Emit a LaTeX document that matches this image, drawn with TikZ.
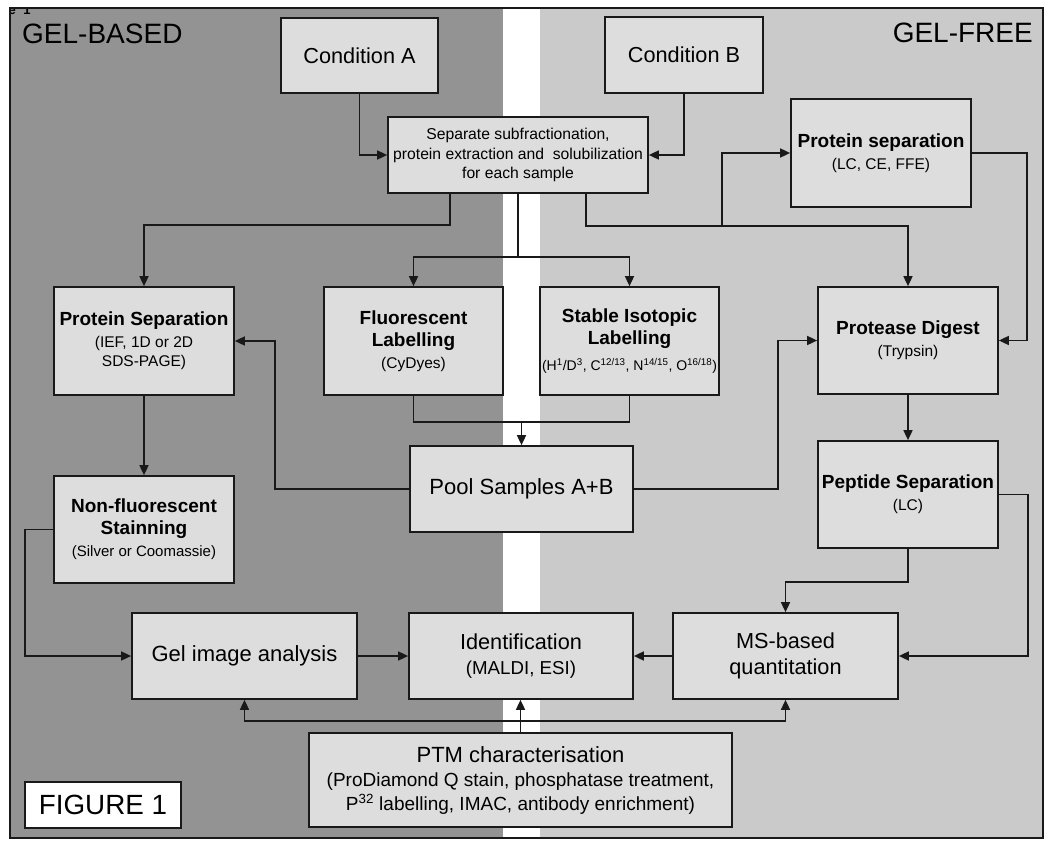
\documentclass[tikz,border=0pt]{standalone}
\usepackage{fontspec}
\setmainfont{Liberation Sans}
\usetikzlibrary{arrows.meta,calc}
\definecolor{darkbg}{RGB}{147,147,147}
\definecolor{lightbg}{RGB}{202,202,202}
\definecolor{boxfill}{RGB}{221,221,221}
\definecolor{edge}{RGB}{25,25,25}
\newcommand{\fs}[2]{\fontsize{#1}{#2}\selectfont}
\newcommand{\ttl}[1]{{\fs{19}{22}\bfseries #1}}
\begin{document}
\begin{tikzpicture}[x=1pt,y=-1pt,
  box/.style={draw=edge,fill=boxfill,line width=1.7pt,align=center,inner sep=0pt},
  bx/.style 2 args={box,minimum width=#1pt,minimum height=#2pt},
  arr/.style={draw=edge,line width=1.6pt,-{Triangle[length=10pt,width=9pt]}},
  conn/.style={draw=edge,line width=1.6pt},
  sub/.style={font=\fs{15.5}{22}},
  big/.style={font=\fs{21.7}{26}}
  ]
\useasboundingbox (0,0) rectangle (1050,846);
\fill[white] (0,0) rectangle (1050,846);
\fill[darkbg] (10,8) rectangle (503,838);
\fill[lightbg] (540,8) rectangle (1043,838);
\begin{scope}
  \clip (0,7.5) rectangle (60,20);
  \node[anchor=base west,inner sep=0pt,font=\bfseries\fs{13}{15}] (e1) at (8.5,14) {e\hspace{7.5pt}1};
\end{scope}
\draw[edge,line width=2.5pt] (10,8) rectangle (1043,838);

\node[anchor=base west,inner sep=0pt,font=\fs{28}{32}] (gb) at (22,43) {GEL-BASED};
\node[anchor=base east,inner sep=0pt,font=\fs{28}{32}] (gf) at (1033,42) {GEL-FREE};

% boxes
\node[bx={157}{75},big] (condA) at (359.5,55.5) {Condition A};
\node[bx={158}{76},big] (condB) at (684,55) {Condition B};
\node[bx={260}{76},font=\fs{15.7}{19.5}] (sep) at (518,155)
  {Separate subfractionation,\\protein extraction and\ \ solubilization\\for each sample};
\node[bx={180}{108},sub] (psR) at (881,153) {\ttl{Protein separation}\\(LC, CE, FFE)};
\node[bx={180}{108},sub] (psL) at (144,341) {\ttl{Protein Separation}\\(IEF, 1D or 2D\\[-3pt]SDS-PAGE)};
\node[bx={179}{108},sub] (fluor) at (413.5,341) {\ttl{Fluorescent}\\\ttl{Labelling}\\(CyDyes)};
\node[bx={179}{108},sub] (stable) at (629.5,341) {\ttl{Stable Isotopic}\\\ttl{Labelling}\\[4pt]{\fs{14}{16}(H\textsuperscript{1}/D\textsuperscript{3}, C\textsuperscript{12/13}, N\textsuperscript{14/15}, O\textsuperscript{16/18})}};
\node[bx={180}{107},sub] (digest) at (908,340.5) {\ttl{Protease Digest}\\(Trypsin)};
\node[bx={223}{86},font=\fs{22}{26}] (pool) at (521.5,489) {Pool Samples A+B};
\node[bx={180}{107},sub] (nonfl) at (144,529.5) {\ttl{Non-fluorescent}\\\ttl{Stainning}\\{\fs{15}{18}(Silver or Coomassie)}};
\node[bx={180}{107},sub] (pep) at (908,494.5) {\ttl{Peptide Separation}\\(LC)};
\node[bx={225}{86},font=\fs{22}{26}] (gel) at (244.5,656) {Gel image analysis};
\node[bx={224}{86},font=\fs{18.7}{25}] (ident) at (521,656) {{\fs{21.7}{26}Identification}\\(MALDI, ESI)};
\node[bx={225}{86},big] (ms) at (785.5,656) {MS-based\\quantitation};
\node[bx={423}{94},font=\fs{19}{24}] (ptm) at (520.5,780)
  {{\fs{22}{26}PTM characterisation}\\(ProDiamond Q stain, phosphatase treatment,\\P\textsuperscript{32} labelling, IMAC, antibody enrichment)};
\node[draw=edge,fill=white,line width=1.7pt,minimum width=156pt,minimum height=46pt,inner sep=0pt,font=\fs{27.8}{32}] (fig) at (103,805) {FIGURE 1};

% connectors
\draw[arr] (condA.south) |- (sep.west);
\draw[arr] (condB.south) |- (sep.east);
\draw[arr] ([xshift=-68pt]sep.south) -- ++(0,31) -| (psL.north);
\draw[arr] (sep.south) -- ++(0,63) -| (fluor.north);
\draw[arr] (sep.south) -- ++(0,63) -| (stable.north);
\draw[arr] ([xshift=68pt]sep.south) -- ++(0,32) -| (digest.north);
\coordinate (j1) at (722,225);
\draw[arr] (j1) |- (psR.west);
\draw[arr] (psR.east) -- ++(55,0) |- (digest.east);
\draw[arr] (digest.south) -- (pep.north);
\draw[arr] (pep.east) -- ++(29,0) |- (ms.east);
\draw[arr] (pep.south) -- ++(0,33) -| (ms.north);
\draw[arr] (ms.west) -- (ident.east);
\draw[arr] (gel.east) -- (ident.west);
\draw[arr] (ptm.north) -- (ptm.north |- ident.south);
\draw[arr] (ptm.north) -- ++(0,-11) -| (gel.south);
\draw[arr] (ptm.north) -- ++(0,-11) -| (ms.south);
\draw[arr] (psL.south) -- (nonfl.north);
\draw[arr] (nonfl.west) -- ++(-28,0) |- (gel.west);
\draw[conn] (fluor.south) -- ++(0,26) coordinate (fl) -| (stable.south);
\draw[arr] (fl -| pool.north) -- (pool.north);
\draw[arr] (pool.west) -- ++(-134,0) |- (psL.east);
\draw[arr] (pool.east) -- ++(144,0) |- (digest.west);
\end{tikzpicture}
\end{document}
